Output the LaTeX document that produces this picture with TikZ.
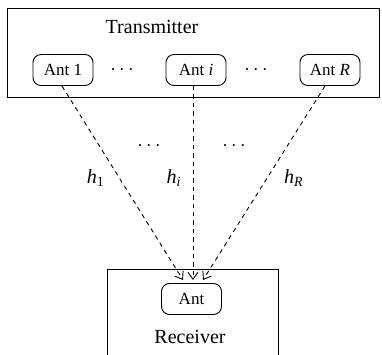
\documentclass[tikz,border=0pt]{standalone}
\usepackage{fontspec}
\setmainfont{Liberation Serif}
\usetikzlibrary{arrows.meta}
\begin{document}
\begin{tikzpicture}[x=0.5pt,y=-0.5pt,
  antbox/.style={draw,rounded corners=4pt,minimum width=30pt,minimum height=15.5pt,inner sep=0pt,font=\fontsize{8.5}{10}\selectfont,line width=0.45pt},
  frame/.style={draw,line width=0.5pt},
  chan/.style={dashed,dash pattern=on 2.2pt off 2pt,line width=0.45pt,-{Straight Barb[length=3.5pt,width=5pt]}},
  lbl/.style={font=\fontsize{10}{12}\selectfont,inner sep=0pt}]
\useasboundingbox (0,0) rectangle (382,355);
\draw[frame] (8,8) rectangle (380,97);
\draw[frame] (108,360) -- (108,269) -- (279,269) -- (279,360);
\node[lbl] (tx) at (152,27) {Transmitter};
\node[antbox] (a1) at (63,70) {Ant 1};
\node[antbox] (ai) at (196,70) {Ant \textit{i}};
\node[antbox] (aR) at (330,70) {Ant \textit{R}};
\node[lbl] (d1) at (122,70) {$\cdots$};
\node[lbl] (d2) at (256,70) {$\cdots$};
\node[antbox] (ra) at (191.5,299) {Ant};
\node[lbl] (rx) at (190,337) {Receiver};
\coordinate (e1) at (183,280);
\coordinate (ei) at (193,280);
\coordinate (eR) at (203,280);
\coordinate (s1) at (62,86);
\coordinate (si) at (193,86);
\coordinate (sR) at (325,86);
\draw[chan] (s1) -- (e1);
\draw[chan] (si) -- (ei);
\draw[chan] (sR) -- (eR);
\node[lbl] (d3) at (149,146) {$\cdots$};
\node[lbl] (d4) at (234,146) {$\cdots$};
\node[lbl] (h1) at (96,178) {\textit{h}\textsubscript{1}};
\node[lbl] (hi) at (174,178) {\textit{h}\textsubscript{\textit{i}}};
\node[lbl] (hR) at (294,178) {\textit{h}\textsubscript{\textit{R}}};
\end{tikzpicture}
\end{document}
